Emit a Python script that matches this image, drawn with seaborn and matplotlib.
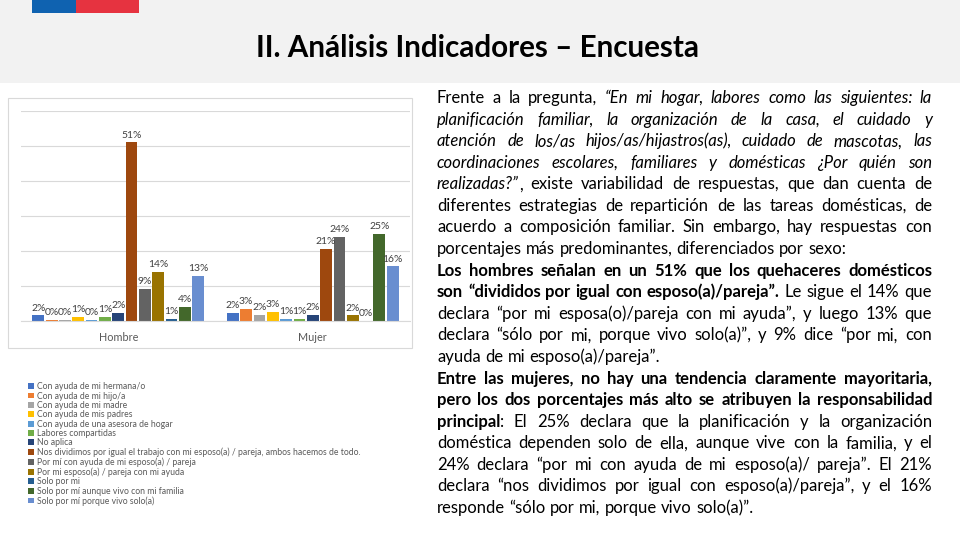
import numpy as np
import pandas as pd
import matplotlib
matplotlib.use('Agg')
import matplotlib.pyplot as plt
from matplotlib.patches import Rectangle, Patch
import seaborn as sns

# Survey answers (legend order) and percentages by sex
respuestas = [
    'Con ayuda de mi hermana/o',
    'Con ayuda de mi hijo/a',
    'Con ayuda de mi madre',
    'Con ayuda de mis padres',
    'Con ayuda de una asesora de hogar',
    'Labores compartidas',
    'No aplica',
    'Nos dividimos por igual el trabajo con mi esposo(a) / pareja, ambos hacemos de todo.',
    'Por mí con ayuda de mi esposo(a) / pareja',
    'Por mi esposo(a) / pareja con mi ayuda',
    'Solo por mi',
    'Solo por mí aunque vivo con mi familia',
    'Solo por mí porque vivo solo(a)',
]
sexos = ['Hombre', 'Mujer']
hombre = [1.6, 0.4, 0.4, 1.2, 0.4, 1.1, 2.4, 51, 9.1, 14, 0.6, 4, 13]
mujer = [2.4, 3.4, 1.7, 2.7, 0.6, 0.6, 1.7, 20.6, 24.1, 1.6, 0, 24.9, 15.6]
colores = ['#4472C4', '#ED7D31', '#A5A5A5', '#FFC000', '#5B9BD5', '#70AD47',
           '#264478', '#9E480E', '#636363', '#997300', '#255E91', '#43682B',
           '#698ED0']

titulo = 'II. Análisis Indicadores – Encuesta'

# Right-hand text, line by line: (text, style) with n=normal, i=italic, b=bold
# flag True = last line of a paragraph (left aligned)
lineas = [
    ([('Frente a la pregunta, ', 'n'), ('“En mi hogar, labores como las siguientes: la', 'i')], False),
    ([('planificación familiar, la organización de la casa, el cuidado y', 'i')], False),
    ([('atención de los/as hijos/as/hijastros(as), cuidado de mascotas, las', 'i')], False),
    ([('coordinaciones escolares, familiares y domésticas ¿Por quién son', 'i')], False),
    ([('realizadas?”', 'i'), (', existe variabilidad de respuestas, que dan cuenta de', 'n')], False),
    ([('diferentes estrategias de repartición de las tareas domésticas, de', 'n')], False),
    ([('acuerdo a composición familiar. Sin embargo, hay respuestas con', 'n')], False),
    ([('porcentajes más predominantes, diferenciados por sexo:', 'n')], True),
    ([('Los hombres señalan en un 51% que los quehaceres domésticos', 'b')], False),
    ([('son “divididos por igual con esposo(a)/pareja”.', 'b'), (' Le sigue el 14% que', 'n')], False),
    ([('declara “por mi esposa(o)/pareja con mi ayuda”, y luego 13% que', 'n')], False),
    ([('declara “sólo por mi, porque vivo solo(a)”, y 9% dice “por mi, con', 'n')], False),
    ([('ayuda de mi esposo(a)/pareja”.', 'n')], True),
    ([('Entre las mujeres, no hay una tendencia claramente mayoritaria,', 'b')], False),
    ([('pero los dos porcentajes más alto se atribuyen la responsabilidad', 'b')], False),
    ([('principal', 'b'), (': El 25% declara que la planificación y la organización', 'n')], False),
    ([('doméstica dependen solo de ella, aunque vive con la familia, y el', 'n')], False),
    ([('24% declara “por mi con ayuda de mi esposo(a)/ pareja”. El 21%', 'n')], False),
    ([('declara “nos dividimos por igual con esposo(a)/pareja”, y el 16%', 'n')], False),
    ([('responde “sólo por mi, porque vivo solo(a)”.', 'n')], True),
]

df = pd.DataFrame({
    'sexo': np.repeat(sexos, len(respuestas)),
    'respuesta': respuestas * 2,
    'valor': hombre + mujer,
})

W, H = 960, 540
fig = plt.figure(figsize=(9.6, 5.4), dpi=100)
fig.patch.set_facecolor('white')
FONT = 'Lato'


def px(x, y):
    return x / W, 1 - y / H


# header band and flag
fig.patches.append(Rectangle((0, 1 - 83 / H), 1, 83 / H, transform=fig.transFigure,
                             facecolor='#f2f2f2', edgecolor='none', zorder=-2))
fig.patches.append(Rectangle((32 / W, 1 - 13 / H), 44 / W, 13 / H, transform=fig.transFigure,
                             facecolor='#0f62b0', edgecolor='none', zorder=-1))
fig.patches.append(Rectangle((76 / W, 1 - 13 / H), 63 / W, 13 / H, transform=fig.transFigure,
                             facecolor='#e63340', edgecolor='none', zorder=-1))
# chart frame
fig.patches.append(Rectangle((8 / W, 1 - 348 / H), 404 / W, 250 / H, transform=fig.transFigure,
                             facecolor='none', edgecolor='#d9d9d9', lw=0.8, zorder=-1))

renderer = fig.canvas.get_renderer()

# title, sized to the reference width
t = fig.text(*px(478, 48), titulo, ha='center', va='center', fontsize=20,
             fontweight='bold', family=FONT, color='black')
tw = t.get_window_extent(renderer).width
t.set_fontsize(20 * 445 / tw)

# chart
ax = fig.add_axes([21 / W, 1 - 321 / H, 389 / W, 210 / H])
sns.barplot(data=df, x='sexo', y='valor', hue='respuesta', hue_order=respuestas,
            palette=colores, width=0.89, gap=0.12, ax=ax, legend=False,
            saturation=1, errorbar=None)
ax.set_ylim(0, 60)
ax.set_xlim(-0.5, 1.5)
ax.set_yticks(np.arange(0, 61, 10))
ax.set_yticklabels([])
ax.tick_params(axis='both', length=0)
ax.grid(axis='y', color='#d9d9d9', lw=0.8)
ax.set_axisbelow(True)
for s in ['top', 'left', 'right']:
    ax.spines[s].set_visible(False)
ax.spines['bottom'].set_color('#d9d9d9')
ax.set_xlabel('')
ax.set_ylabel('')
ax.set_facecolor('none')
for lab in ax.get_xticklabels():
    lab.set_color('#595959')
    lab.set_fontsize(7.8)
    lab.set_family(FONT)
ax.tick_params(axis='x', pad=8)
for cont in ax.containers:
    ax.bar_label(cont, labels=[f'{b.get_height():.0f}%' for b in cont],
                 fontsize=7.5, color='#404040', padding=2, family=FONT)

# legend below the chart frame
handles = [Patch(facecolor=c, edgecolor='none') for c in colores]
fig.legend(handles, respuestas, loc='upper left', bbox_to_anchor=px(24, 378),
           frameon=False, prop={'family': FONT, 'size': 6.2}, labelcolor='#595959',
           handlelength=0.65, handleheight=0.65, handletextpad=0.4,
           labelspacing=0.04, borderpad=0)

# justified text block
X0, X1 = 437, 932
Y0, DY = 103, 21.58
styles = {'n': dict(), 'i': dict(fontstyle='italic'), 'b': dict(fontweight='bold')}


def palabras(segs):
    words = []
    prev_space = True
    for txt, st in segs:
        parts = txt.split(' ')
        for k, p in enumerate(parts):
            if p == '':
                continue
            if k == 0 and words and not prev_space:
                words[-1].append((p, st))
            else:
                words.append([(p, st)])
        prev_space = txt.endswith(' ')
    return words


def ancho(piece, st, fs):
    tt = fig.text(0, 0, piece, fontsize=fs, family=FONT, **styles[st])
    w = tt.get_window_extent(renderer).width
    tt.remove()
    return w


# choose font size so the widest line fits with normal spacing
fs = 11
sp = ancho('a b', 'n', fs) - ancho('ab', 'n', fs)
worst = 0
for segs, last in lineas:
    ws = palabras(segs)
    nat = sum(ancho(p, s, fs) for w in ws for p, s in w) + sp * (len(ws) - 1)
    worst = max(worst, nat)
fs = min(12, fs * (X1 - X0) / worst)

sp = ancho('a b', 'n', fs) - ancho('ab', 'n', fs)
for i, (segs, last) in enumerate(lineas):
    ws = palabras(segs)
    widths = [[ancho(p, s, fs) for p, s in w] for w in ws]
    total = sum(sum(w) for w in widths)
    gap = sp if last or len(ws) < 2 else (X1 - X0 - total) / (len(ws) - 1)
    x = X0
    y = Y0 + i * DY
    for w, wl in zip(ws, widths):
        for (p, s), pw in zip(w, wl):
            fig.text(*px(x, y), p, fontsize=fs, family=FONT, va='baseline',
                     ha='left', color='black', **styles[s])
            x += pw
        x += gap

fig.savefig('out.png', dpi=100)
